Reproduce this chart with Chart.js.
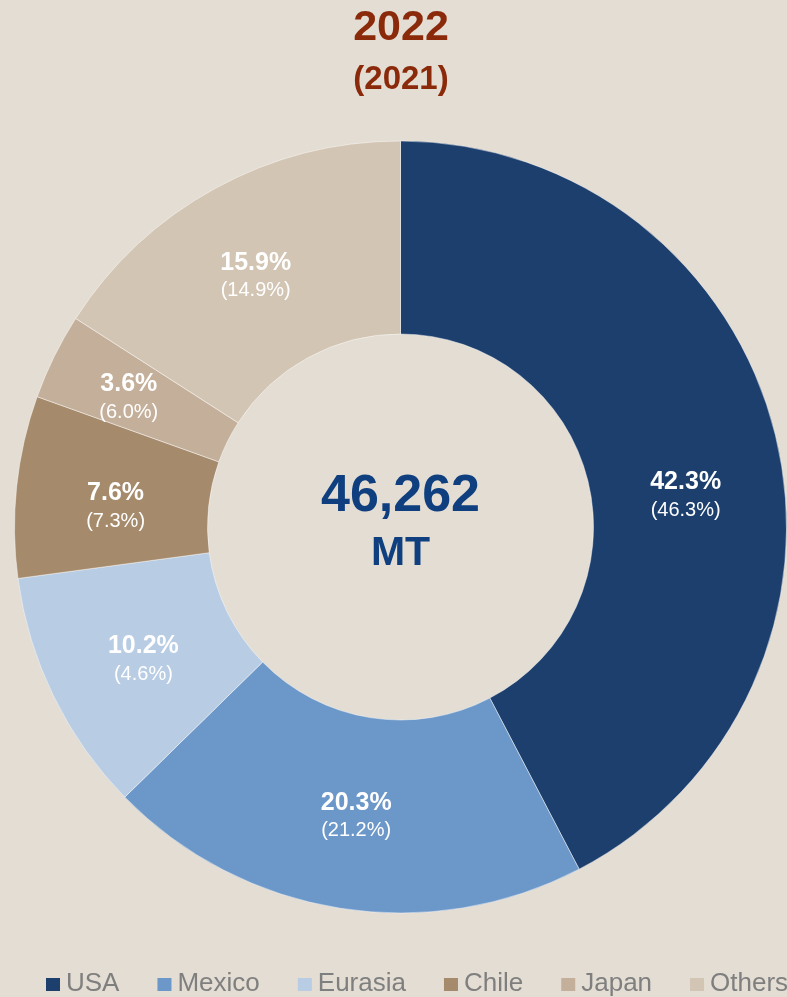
<!DOCTYPE html>
<html>
<head>
<meta charset="utf-8">
<script src="https://cdn.jsdelivr.net/npm/chart.js@4"></script>
<style>
  html, body { margin: 0; padding: 0; background: #e3ddd3; }
  #wrap { width: 787px; height: 997px; position: relative; overflow: hidden; }
</style>
</head>
<body>
<div id="wrap"><canvas id="shareChart" width="787" height="997"></canvas></div>
<script>
const regions = ["USA", "Mexico", "Eurasia", "Chile", "Japan", "Others"];
const share2022 = [42.3, 20.3, 10.2, 7.6, 3.6, 15.9];
const share2021 = [46.3, 21.2, 4.6, 7.3, 6.0, 14.9];
const sliceColors = ["#1c3f6e", "#6c97c9", "#b8cce4", "#a58a6c", "#c4b09a", "#d3c5b3"];
const totalText = "46,262";
const unitText = "MT";

const FONT = "'Liberation Sans', Arial, sans-serif";

// small hand nudges for label placement, [dx, dy]
const labelNudge = [[4, 38], [1, 4], [3, 6], [3, 11], [-12, -1], [-6, 4]];

// title, centre total, slice labels and legend
const decorations = {
  id: "decorations",
  afterDraw(chart) {
    const ctx = chart.ctx;
    const meta = chart.getDatasetMeta(0);
    const cx = meta.data[0].x;
    ctx.save();
    ctx.textAlign = "center";
    ctx.textBaseline = "middle";

    ctx.fillStyle = "#8b2a0a";
    ctx.font = "bold 43px " + FONT;
    ctx.fillText("2022", 401, 28);
    ctx.font = "bold 33px " + FONT;
    ctx.fillText("(2021)", 401, 80);

    ctx.fillStyle = "#0f3f7f";
    ctx.font = "bold 52px " + FONT;
    ctx.fillText(totalText, cx, 497);
    ctx.font = "bold 41px " + FONT;
    ctx.fillText(unitText, cx, 554);

    ctx.fillStyle = "#ffffff";
    meta.data.forEach((arc, i) => {
      const mid = (arc.startAngle + arc.endAngle) / 2;
      const r = (arc.innerRadius + arc.outerRadius) / 2;
      const x = arc.x + Math.cos(mid) * r + labelNudge[i][0];
      const y = arc.y + Math.sin(mid) * r + labelNudge[i][1];
      ctx.font = "bold 25px " + FONT;
      ctx.fillText(share2022[i].toFixed(1) + "%", x, y - 14);
      ctx.font = "20px " + FONT;
      ctx.fillText("(" + share2021[i].toFixed(1) + "%)", x, y + 14);
    });

    // legend, left to right, allowed to run past the right edge
    ctx.textAlign = "left";
    ctx.font = "26px " + FONT;
    let lx = 46;
    const ly = 984;
    regions.forEach((name, i) => {
      ctx.fillStyle = sliceColors[i];
      ctx.fillRect(lx, ly - 6, 14, 13);
      ctx.fillStyle = "#7f7f7f";
      ctx.fillText(name, lx + 20, ly);
      lx += 20 + ctx.measureText(name).width + 38;
    });
    ctx.restore();
  }
};

new Chart(document.getElementById("shareChart"), {
  type: "doughnut",
  data: {
    labels: regions,
    datasets: [
      {
        data: share2022,
        backgroundColor: sliceColors,
        borderColor: "rgba(255, 255, 255, 0.45)",
        borderWidth: 1
      }
    ]
  },
  options: {
    responsive: false,
    animation: false,
    cutout: "50%",
    layout: {
      padding: { left: 14, right: -1, top: 140, bottom: 83 }
    },
    plugins: {
      legend: { display: false },
      title: { display: false },
      tooltip: { enabled: false }
    }
  },
  plugins: [decorations]
});
</script>
</body>
</html>
